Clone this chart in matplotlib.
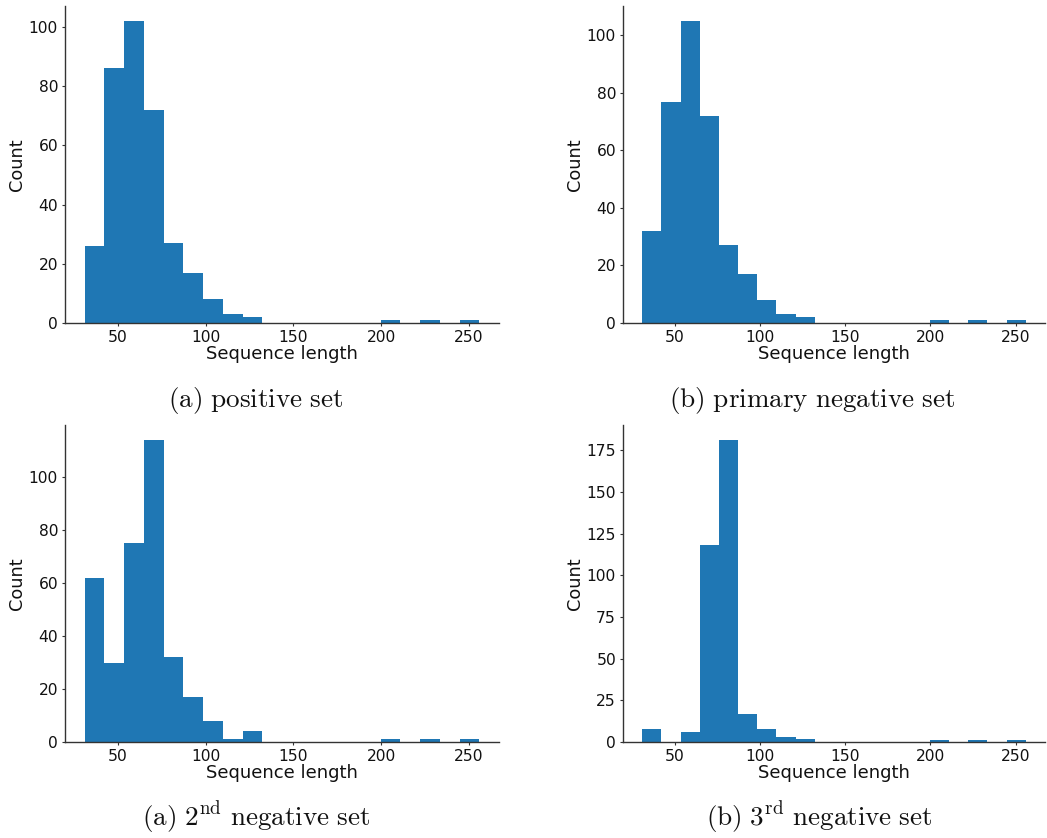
import numpy as np
import matplotlib
matplotlib.use("Agg")
import matplotlib.pyplot as plt

plt.rcParams["mathtext.fontset"] = "cm"
plt.rcParams["font.family"] = "DejaVu Sans"

# Histogram bin edges (20 equal bins over the sequence-length range)
bin_edges = np.linspace(31, 256, 21)
bin_left = bin_edges[:-1]
bin_width = np.diff(bin_edges)

# Counts per bin for each dataset
positive_counts = [26, 86, 102, 72, 27, 17, 8, 3, 2, 0, 0, 0, 0, 0, 0, 1, 0, 1, 0, 1]
primary_neg_counts = [32, 77, 105, 72, 27, 17, 8, 3, 2, 0, 0, 0, 0, 0, 0, 1, 0, 1, 0, 1]
second_neg_counts = [62, 30, 75, 114, 32, 17, 8, 1, 4, 0, 0, 0, 0, 0, 0, 1, 0, 1, 0, 1]
third_neg_counts = [8, 0, 6, 118, 181, 17, 8, 3, 2, 0, 0, 0, 0, 0, 0, 1, 0, 1, 0, 1]

captions = [
    r"$\mathrm{(a)\ positive\ set}$",
    r"$\mathrm{(b)\ primary\ negative\ set}$",
    r"$\mathrm{(a)\ 2^{nd}\ negative\ set}$",
    r"$\mathrm{(b)\ 3^{rd}\ negative\ set}$",
]
datasets = [positive_counts, primary_neg_counts, second_neg_counts, third_neg_counts]

W, H = 1047, 838
fig = plt.figure(figsize=(W / 100, H / 100), dpi=100)

# axes boxes in pixels: left, top, right, bottom
boxes = [
    (65, 6, 499, 323),
    (623, 6, 1045, 323),
    (65, 425, 499, 742),
    (623, 425, 1045, 742),
]
caption_pos = [(256, 400), (812, 400), (256, 818), (819, 818)]

for counts, box, cap, cpos in zip(datasets, boxes, captions, caption_pos):
    l, t, r, b = box
    ax = fig.add_axes([l / W, 1 - b / H, (r - l) / W, (b - t) / H])
    ax.bar(bin_left, counts, width=bin_width, align="edge",
           color="#1f77b4", edgecolor="none", linewidth=0)
    span = bin_edges[-1] - bin_edges[0]
    ax.set_xlim(bin_edges[0] - 0.05 * span, bin_edges[-1] + 0.05 * span)
    ax.set_ylim(0, max(counts) * 1.05)
    ax.set_xticks([50, 100, 150, 200, 250])
    for side in ("top", "right"):
        ax.spines[side].set_visible(False)
    for side in ("left", "bottom"):
        ax.spines[side].set_color("#333333")
        ax.spines[side].set_linewidth(1.0)
    ax.tick_params(axis="both", labelsize=11.2, length=2.5, width=0.8, pad=2.5,
                   color="#333333", labelcolor="#111111")
    ax.set_xlabel("Sequence length", fontsize=13, labelpad=0, color="#111111")
    ax.set_ylabel("Count", fontsize=12.8, labelpad=2, color="#111111")
    fig.text(cpos[0] / W, 1 - cpos[1] / H, cap, fontsize=19.5,
             ha="center", va="center", color="#111111")

fig.savefig("out.png", dpi=100)
